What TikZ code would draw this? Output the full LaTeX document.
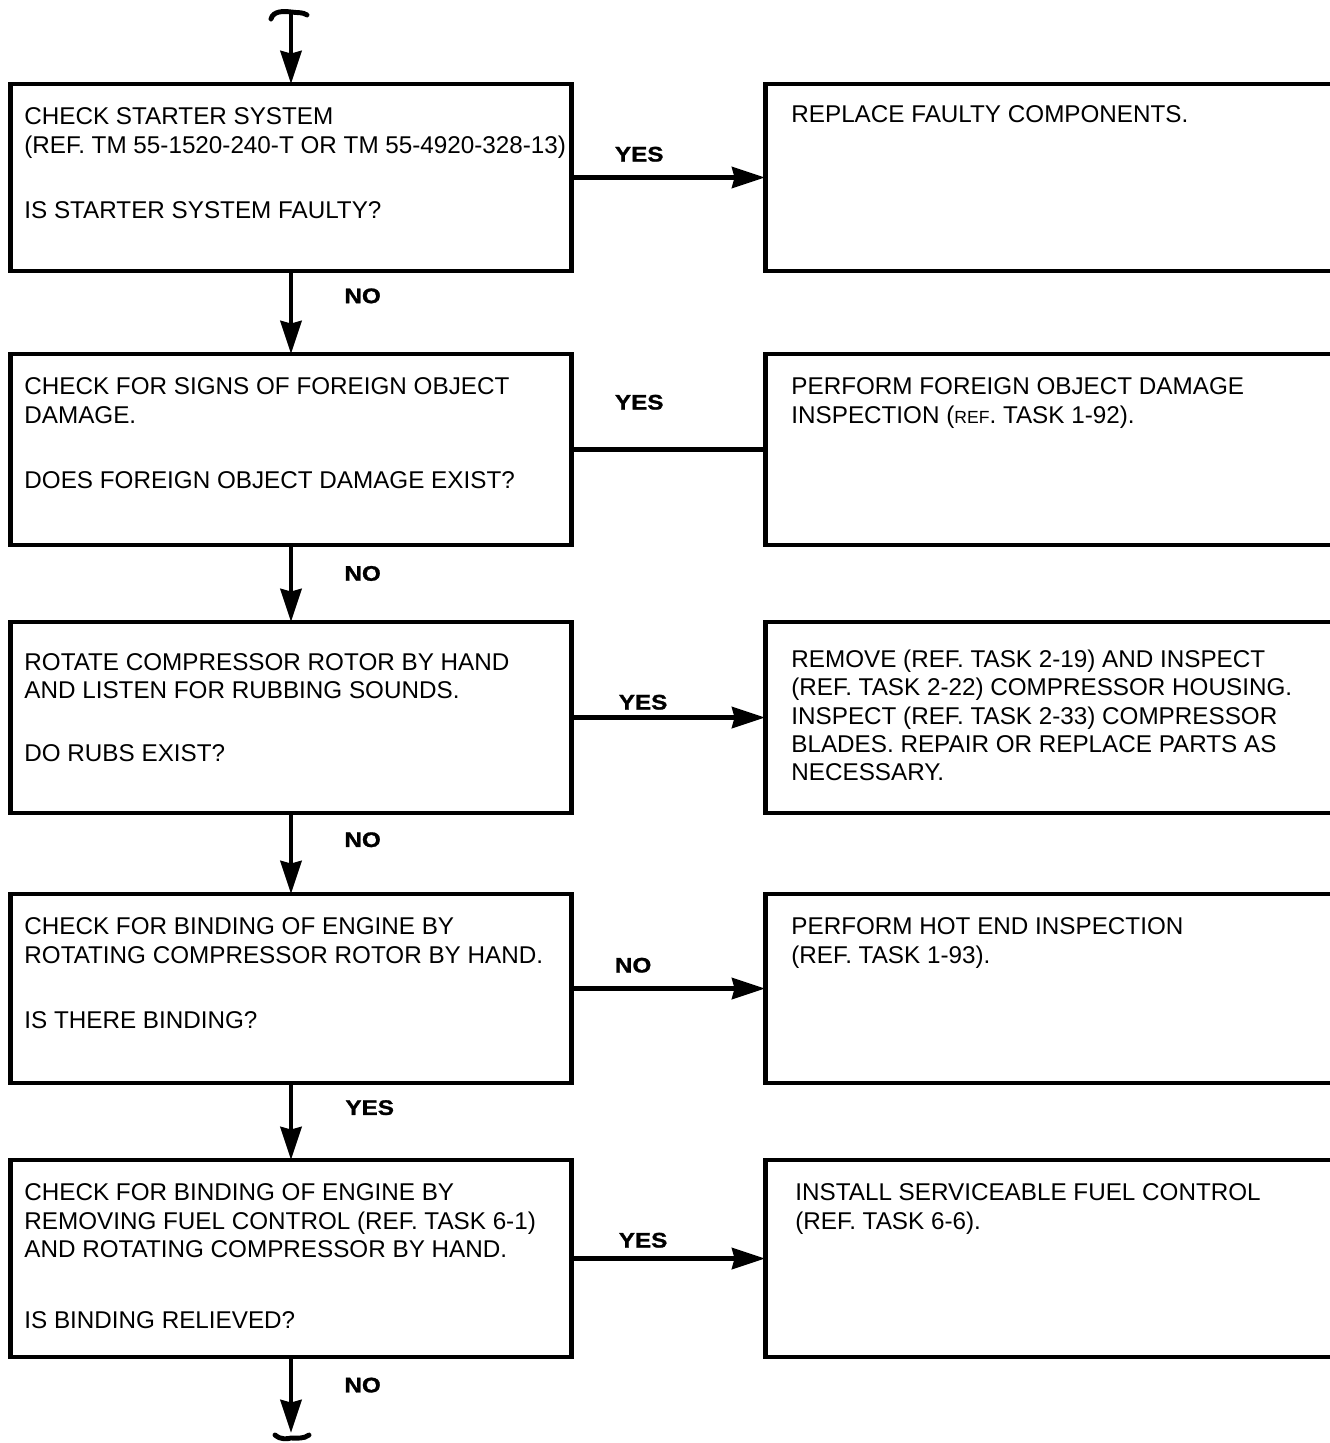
\documentclass[tikz,border=0pt]{standalone}
\usepackage{fontspec}
\setmainfont{Liberation Sans}
\newfontfamily\lblfont{Liberation Sans}[FakeStretch=1.15, FakeBold=1.2]
\usetikzlibrary{arrows.meta}

\newcommand\smref{{\fontsize{10}{12}\selectfont REF}}

\tikzset{
	edge/.style={line width=2.8pt},
	qbox/.style={edge, draw, rectangle, inner sep=0pt, outer sep=0pt, minimum width=11.24cm},
	abox/.style={rectangle, inner sep=0pt, outer sep=0pt, minimum width=11.5cm},
	txt/.style={align=left, inner sep=0pt, anchor=north west, font=\fontsize{13.8}{16.1}\selectfont},
	lbl/.style={inner sep=0pt, font=\lblfont\bfseries\fontsize{12}{14}\selectfont},
	tail/.style={edge, line cap=round}
}

\begin{document}
\begin{tikzpicture}[x=0.02cm, y=-0.02cm, >={Stealth[length=0.66cm,width=0.42cm,inset=0.05cm]}]
	\useasboundingbox (0,0) rectangle (1329,1443);
	
	% question boxes
	\node[qbox, minimum height=3.74cm] (q1) at (291,177.5) {};
	\node[qbox, minimum height=3.82cm] (q2) at (291,449.5) {};
	\node[qbox, minimum height=3.82cm] (q3) at (291,717.5) {};
	\node[qbox, minimum height=3.78cm] (q4) at (291,988.5) {};
	\node[qbox, minimum height=3.94cm] (q5) at (291,1258.5) {};
	
	% action boxes (open at the right)
	\node[abox, minimum height=3.74cm] (a1) at (1052.5,177.5) {};
	\node[abox, minimum height=3.82cm] (a2) at (1052.5,449.5) {};
	\node[abox, minimum height=3.82cm] (a3) at (1052.5,717.5) {};
	\node[abox, minimum height=3.78cm] (a4) at (1052.5,988.5) {};
	\node[abox, minimum height=3.94cm] (a5) at (1052.5,1258.5) {};
	\foreach \n in {a1,a2,a3,a4,a5}
		\draw[edge] (\n.north east) -- (\n.north west) -- (\n.south west) -- (\n.south east);
	
	% texts
	\node[txt] (t1) at ([shift={(0.28cm,-0.47cm)}]q1.north west) {CHECK STARTER SYSTEM\\(REF. TM 55-1520-240-T OR TM 55-4920-328-13)\\[0.75cm]IS STARTER SYSTEM FAULTY?};
	\node[txt] (t2) at ([shift={(0.28cm,-0.47cm)}]q2.north west) {CHECK FOR SIGNS OF FOREIGN OBJECT\\DAMAGE.\\[0.75cm]DOES FOREIGN OBJECT DAMAGE EXIST?};
	\node[txt] (t3) at ([shift={(0.28cm,-0.62cm)}]q3.north west) {ROTATE COMPRESSOR ROTOR BY HAND\\AND LISTEN FOR RUBBING SOUNDS.\\[0.7cm]DO RUBS EXIST?};
	\node[txt] (t4) at ([shift={(0.28cm,-0.47cm)}]q4.north west) {CHECK FOR BINDING OF ENGINE BY\\ROTATING COMPRESSOR ROTOR BY HAND.\\[0.75cm]IS THERE BINDING?};
	\node[txt] (t5) at ([shift={(0.28cm,-0.47cm)}]q5.north west) {CHECK FOR BINDING OF ENGINE BY\\REMOVING FUEL CONTROL (REF. TASK 6-1)\\AND ROTATING COMPRESSOR BY HAND.\\[0.85cm]IS BINDING RELIEVED?};
	
	\node[txt] (s1) at ([shift={(0.52cm,-0.42cm)}]a1.north west) {REPLACE FAULTY COMPONENTS.};
	\node[txt] (s2) at ([shift={(0.52cm,-0.47cm)}]a2.north west) {PERFORM FOREIGN OBJECT DAMAGE\\INSPECTION (\smref. TASK 1-92).};
	\node[txt] (s3) at ([shift={(0.52cm,-0.55cm)}]a3.north west) {REMOVE (REF. TASK 2-19) AND INSPECT\\(REF. TASK 2-22) COMPRESSOR HOUSING.\\INSPECT (REF. TASK 2-33) COMPRESSOR\\BLADES. REPAIR OR REPLACE PARTS AS\\NECESSARY.};
	\node[txt] (s4) at ([shift={(0.52cm,-0.47cm)}]a4.north west) {PERFORM HOT END INSPECTION\\(REF. TASK 1-93).};
	\node[txt] (s5) at ([shift={(0.6cm,-0.47cm)}]a5.north west) {INSTALL SERVICEABLE FUEL CONTROL\\(REF. TASK 6-6).};
	
	% flow in and out
	\coordinate (start) at (291,13);
	\coordinate (stop) at (291,1433);
	\draw[tail] (271,19) .. controls (273,11) and (283,11) .. (291,12) .. controls (298,13) and (303,12) .. (307,15);
	\draw[tail] (275,1435) .. controls (281,1440) and (287,1439) .. (291,1438) .. controls (297,1438) and (304,1439) .. (309,1435);
	\draw[edge,->] (start) -- (q1);
	\draw[edge,->] (q5) -- (stop) node[lbl, pos=.37, anchor=west, xshift=1.02cm] {NO};
	
	% downward connectors
	\draw[edge,->] (q1) -- (q2) node[lbl, pos=.3, anchor=west, xshift=1.02cm] {NO};
	\draw[edge,->] (q2) -- (q3) node[lbl, pos=.37, anchor=west, xshift=1.02cm] {NO};
	\draw[edge,->] (q3) -- (q4) node[lbl, pos=.33, anchor=west, xshift=1.02cm] {NO};
	\draw[edge,->] (q4) -- (q5) node[lbl, pos=.32, anchor=west, xshift=1.04cm] {YES};
	
	% side connectors
	\draw[edge,->] (q1.east) -- (a1.west |- q1.east) node[lbl, pos=.21, anchor=base west, yshift=0.32cm] {YES};
	\draw[edge] (q2.east) -- (a2.west |- q2.east) node[lbl, pos=.21, anchor=base west, yshift=0.8cm] {YES};
	\draw[edge,->] (q3.east) -- (a3.west |- q3.east) node[lbl, pos=.23, anchor=base west, yshift=0.16cm] {YES};
	\draw[edge,->] (q4.east) -- (a4.west |- q4.east) node[lbl, pos=.21, anchor=base west, yshift=0.32cm] {NO};
	\draw[edge,->] (q5.east) -- (a5.west |- q5.east) node[lbl, pos=.23, anchor=base west, yshift=0.22cm] {YES};
\end{tikzpicture}
\end{document}
